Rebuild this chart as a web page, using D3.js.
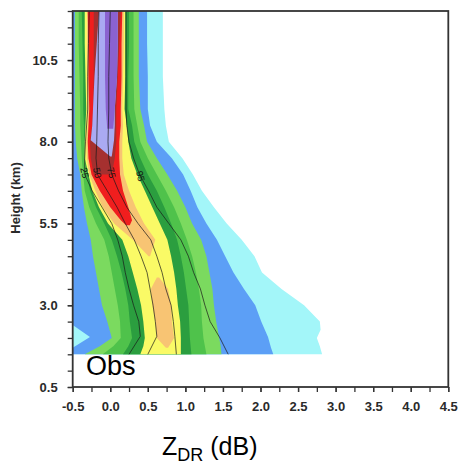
<!DOCTYPE html>
<html>
<head>
<meta charset="utf-8">
<script src="https://cdn.jsdelivr.net/npm/d3@7"></script>
<style>
  html, body { margin: 0; padding: 0; background: #fff; }
  svg { display: block; }
</style>
</head>
<body>
<svg id="chart" width="461" height="468"></svg>
<script>
// Frequency bands of the ZDR-by-altitude diagram, from the lowest (outermost)
// frequency level to the highest (innermost). Each row: [height km, left ZDR dB, right ZDR dB].
const band1 = [[1.5,-0.6,2.82],[1.75,-0.6,2.79],[2.0,-0.6,2.75],[2.25,-0.6,2.80],[2.5,-0.6,2.79],[3.0,-0.6,2.58],[3.5,-0.6,2.28],[4.0,-0.6,2.02],[4.5,-0.6,1.92],[5.0,-0.6,1.75],[5.5,-0.6,1.55],[6.0,-0.6,1.38],[6.5,-0.6,1.22],[7.0,-0.6,1.10],[7.5,-0.6,0.96],[8.0,-0.6,0.78],[8.5,-0.6,0.74],[9.0,-0.6,0.72],[10.0,-0.6,0.70],[11.0,-0.6,0.70],[12.0,-0.6,0.70]];
const band2 = [[1.5,-0.6,2.17],[1.7,-0.5,2.14],[2.03,-0.27,2.10],[2.4,-0.5,2.03],[2.5,-0.6,2.01],[3.0,-0.6,1.93],[3.5,-0.6,1.78],[4.0,-0.6,1.64],[4.5,-0.6,1.53],[5.0,-0.6,1.42],[5.5,-0.6,1.28],[6.0,-0.6,1.16],[6.5,-0.6,1.07],[7.0,-0.6,0.97],[7.5,-0.6,0.82],[8.0,-0.6,0.62],[8.5,-0.6,0.53],[9.0,-0.6,0.50],[10.0,-0.6,0.50],[11.0,-0.6,0.49],[12.0,-0.6,0.49]];
const band3 = [[1.5,-0.34,1.48],[1.75,-0.14,1.47],[2.0,0.02,1.45],[2.5,-0.04,1.41],[3.0,-0.11,1.38],[3.5,-0.15,1.36],[4.0,-0.19,1.32],[4.5,-0.23,1.28],[5.0,-0.26,1.21],[5.5,-0.31,1.09],[6.0,-0.35,1.00],[6.5,-0.38,0.89],[7.0,-0.40,0.76],[7.5,-0.44,0.62],[8.0,-0.46,0.49],[8.5,-0.47,0.45],[9.0,-0.47,0.40],[10.0,-0.47,0.38],[11.0,-0.47,0.38],[12.0,-0.47,0.38]];
const band4 = [[1.5,-0.10,1.28],[1.75,0.04,1.26],[2.0,0.14,1.24],[2.5,0.13,1.22],[3.0,0.10,1.21],[3.5,0.06,1.18],[4.0,0.02,1.14],[4.5,-0.02,1.09],[5.0,-0.08,1.02],[5.5,-0.19,0.94],[6.0,-0.28,0.85],[6.5,-0.34,0.74],[7.0,-0.36,0.62],[7.5,-0.38,0.50],[8.0,-0.39,0.40],[8.5,-0.40,0.36],[9.0,-0.40,0.32],[10.0,-0.41,0.31],[11.0,-0.42,0.31],[12.0,-0.42,0.31]];
const band5 = [[1.5,0.17,1.08],[1.75,0.24,1.07],[2.0,0.29,1.06],[2.5,0.26,1.05],[3.0,0.24,1.04],[3.5,0.20,1.01],[4.0,0.15,0.98],[4.5,0.09,0.94],[5.0,0.02,0.89],[5.5,-0.08,0.81],[6.0,-0.19,0.72],[6.5,-0.27,0.62],[7.0,-0.31,0.50],[7.5,-0.34,0.40],[8.0,-0.35,0.32],[8.5,-0.35,0.29],[9.0,-0.36,0.24],[10.0,-0.36,0.24],[11.0,-0.37,0.25],[12.0,-0.38,0.25]];
const band6 = [[1.5,0.40,0.94],[1.75,0.44,0.94],[2.0,0.46,0.94],[2.5,0.44,0.93],[3.0,0.41,0.90],[3.5,0.36,0.88],[4.0,0.30,0.85],[4.5,0.24,0.81],[5.0,0.16,0.76],[5.5,-0.03,0.66],[6.0,-0.15,0.56],[6.5,-0.24,0.46],[7.0,-0.29,0.36],[7.5,-0.34,0.28],[8.0,-0.34,0.24],[8.5,-0.33,0.22],[9.0,-0.32,0.19],[10.0,-0.33,0.20],[11.0,-0.34,0.20],[12.0,-0.34,0.20]];
const band7 = [[1.7,0.74,0.77],[2.0,0.62,0.85],[2.5,0.60,0.82],[3.0,0.56,0.81],[3.5,0.54,0.77],[3.85,0.62,0.65],[4.2,null,null],[4.5,0.51,0.53],[5.0,0.30,0.60],[5.5,0.05,0.45],[6.0,-0.10,0.34],[6.5,-0.20,0.25],[7.0,-0.28,0.18],[7.5,-0.31,0.16],[8.0,-0.32,0.16],[8.5,-0.30,0.17],[9.0,-0.30,0.16],[10.0,-0.31,0.17],[11.0,-0.31,0.18],[12.0,-0.31,0.18]];
const band8 = [[5.45,0.21,0.26],[5.6,0.14,0.29],[6.0,0.00,0.24],[6.5,-0.14,0.17],[7.0,-0.25,0.13],[7.5,-0.29,0.12],[8.0,-0.30,0.12],[8.5,-0.29,0.14],[9.0,-0.28,0.14],[10.0,-0.29,0.15],[11.0,-0.29,0.15],[12.0,-0.30,0.16]];
const band9 = [[7.0,-0.22,0.02],[7.5,-0.26,0.06],[8.0,-0.27,0.08],[8.5,-0.24,0.08],[9.0,-0.23,0.08],[10.0,-0.22,0.10],[11.0,-0.22,0.12],[12.0,-0.22,0.14]];
const band10 = [[7.55,0.00,0.02],[8.05,-0.26,0.05],[8.5,-0.24,0.06],[9.0,-0.23,0.06],[10.0,-0.21,0.09],[11.0,-0.18,0.10],[12.0,-0.15,0.10]];
const band11 = [[8.4,-0.04,0.04],[9.0,-0.06,0.06],[10.0,-0.07,0.09],[11.0,-0.07,0.10],[12.0,-0.07,0.10]];

// Cumulative percentile curves: [height km, ZDR dB]
const pct25 = [[1.5,0.25],[2.05,0.40],[2.5,0.38],[3.0,0.31],[3.5,0.25],[4.0,0.20],[4.5,0.16],[5.0,0.10],[5.5,0.02],[6.0,-0.11],[6.5,-0.24],[7.0,-0.34],[7.5,-0.34],[8.0,-0.33],[9.0,-0.30],[10.0,-0.30],[11.0,-0.29],[12.0,-0.28]];
const pct50 = [[1.5,0.50],[2.05,0.62],[2.5,0.60],[3.0,0.57],[3.5,0.53],[4.0,0.49],[4.5,0.41],[5.0,0.32],[5.5,0.20],[6.0,0.09],[6.5,-0.04],[7.0,-0.17],[7.5,-0.19],[8.0,-0.18],[9.0,-0.17],[10.0,-0.16],[11.0,-0.16],[12.0,-0.15]];
const pct75 = [[1.5,0.88],[2.05,0.86],[2.5,0.84],[3.0,0.81],[3.5,0.74],[4.0,0.69],[4.5,0.62],[5.0,0.54],[5.5,0.37],[6.0,0.22],[6.5,0.11],[7.0,0.02],[7.5,-0.02],[8.0,-0.03],[9.0,-0.02],[10.0,-0.02],[11.0,-0.01],[12.0,0.00]];
const pct95 = [[1.5,1.57],[2.0,1.46],[2.5,1.33],[3.0,1.26],[3.5,1.20],[4.0,1.11],[4.5,1.04],[5.0,0.94],[5.5,0.78],[6.0,0.62],[6.5,0.51],[7.0,0.39],[7.5,0.31],[8.0,0.25],[8.5,0.22],[9.0,0.21],[10.0,0.21],[11.0,0.21],[12.0,0.21]];
const pctNames = ["25", "50", "75", "95"];
const pctLabelHeights = [7.05, 7.05, 7.05, 6.95];

// Axis ticks
const xTicks = [-0.5, 0.0, 0.5, 1.0, 1.5, 2.0, 2.5, 3.0, 3.5, 4.0, 4.5];
const yTicks = [0.5, 3.0, 5.5, 8.0, 10.5];

// Fill colours, lowest to highest frequency
const bandColors = ["#a3f6f9", "#5c9ff6", "#7bda5f", "#4fc24b", "#2b9e3f",
                    "#fafa66", "#f8c473", "#f01e1e", "#a5302f", "#aaaaf2", "#8a62d0"];

const bands = [band1, band2, band3, band4, band5, band6, band7, band8, band9, band10, band11];
const pcts = [pct25, pct50, pct75, pct95];

const svg = d3.select("#chart");
const plotLeft = 72.7, plotRight = 448.3, plotTop = 11, plotBottom = 387;

const x = d3.scaleLinear().domain([-0.5, 4.5]).range([plotLeft, plotRight]);
const y = d3.scaleLinear().domain([0.5, 12]).range([plotBottom, plotTop]);

svg.append("rect").attr("width", 461).attr("height", 468).attr("fill", "#fff");

svg.append("defs").append("clipPath").attr("id", "plotClip")
  .append("rect").attr("x", plotLeft).attr("y", plotTop)
  .attr("width", plotRight - plotLeft).attr("height", plotBottom - plotTop);

const plot = svg.append("g").attr("clip-path", "url(#plotClip)");

const area = d3.area()
  .defined(d => d[1] != null)
  .y(d => y(d[0]))
  .x0(d => x(d[1]))
  .x1(d => x(d[2]));

plot.selectAll("path.band")
  .data(bands)
  .join("path")
  .attr("class", "band")
  .attr("d", area)
  .attr("fill", (d, i) => bandColors[i]);

const line = d3.line().x(d => x(d[1])).y(d => y(d[0]));

plot.selectAll("path.pct")
  .data(pcts)
  .join("path")
  .attr("class", "pct")
  .attr("d", line)
  .attr("fill", "none")
  .attr("stroke", "#1a1a1a")
  .attr("stroke-width", 0.7);

// Percentile labels sit on their curves
function valueAt(curve, h) {
  for (let i = 0; i < curve.length - 1; i++) {
    const a = curve[i], b = curve[i + 1];
    if (h >= a[0] && h <= b[0]) {
      const t = (h - a[0]) / (b[0] - a[0]);
      return a[1] + t * (b[1] - a[1]);
    }
  }
  return curve[curve.length - 1][1];
}

plot.selectAll("text.pctLabel")
  .data(pcts)
  .join("text")
  .attr("class", "pctLabel")
  .attr("transform", (d, i) => {
    const h = pctLabelHeights[i];
    return `translate(${x(valueAt(d, h))},${y(h)}) rotate(78)`;
  })
  .attr("text-anchor", "middle")
  .attr("dy", "0.35em")
  .attr("font-family", "Liberation Sans, Arial, sans-serif")
  .attr("font-size", 9.5)
  .attr("fill", "#111")
  .text((d, i) => pctNames[i]);

// Axes
const axisFont = "Liberation Sans, Arial, Helvetica, sans-serif";

const xAxisMinor = d3.axisBottom(x).tickValues(d3.range(-0.5, 4.51, 0.25)).tickSize(5).tickFormat("");
const xAxis = d3.axisBottom(x).tickValues(xTicks).tickSize(5).tickPadding(10).tickFormat(d => d.toFixed(1));
const yAxisMinor = d3.axisLeft(y).tickValues(d3.range(0.5, 12.01, 0.5)).tickSize(5).tickFormat("");
const yAxis = d3.axisLeft(y).tickValues(yTicks).tickSize(5).tickPadding(10).tickFormat(d => d.toFixed(1));

function styleAxis(g) {
  g.selectAll("path.domain").remove();
  g.selectAll("line").attr("stroke", "#333").attr("stroke-width", 1.3);
  g.selectAll("text")
    .attr("font-family", axisFont)
    .attr("font-size", 13)
    .attr("font-weight", "bold")
    .attr("fill", "#2a2a2a");
}

svg.append("g").attr("transform", `translate(0,${plotBottom})`).call(xAxisMinor).call(styleAxis);
svg.append("g").attr("transform", `translate(0,${plotBottom})`).call(xAxis).call(styleAxis);
svg.append("g").attr("transform", `translate(${plotLeft},0)`).call(yAxisMinor).call(styleAxis);
svg.append("g").attr("transform", `translate(${plotLeft},0)`).call(yAxis).call(styleAxis);

// Frame
svg.append("rect")
  .attr("x", plotLeft).attr("y", plotTop)
  .attr("width", plotRight - plotLeft).attr("height", plotBottom - plotTop)
  .attr("fill", "none").attr("stroke", "#333").attr("stroke-width", 1.8);

// Panel tag
svg.append("text")
  .attr("x", 86).attr("y", 375)
  .attr("font-family", axisFont)
  .attr("font-size", 27)
  .attr("fill", "#000")
  .text("Obs");

// Axis titles
svg.append("text")
  .attr("transform", "translate(19.5,198) rotate(-90)")
  .attr("text-anchor", "middle")
  .attr("font-family", axisFont)
  .attr("font-size", 13)
  .attr("font-weight", "bold")
  .attr("fill", "#2a2a2a")
  .text("Height (km)");

const xTitle = svg.append("text")
  .attr("x", 162).attr("y", 455)
  .attr("font-family", axisFont)
  .attr("font-size", 25)
  .attr("fill", "#000");
xTitle.append("tspan").text("Z");
xTitle.append("tspan").attr("font-size", 18).attr("dy", 6).text("DR");
xTitle.append("tspan").attr("dy", -6).text(" (dB)");
</script>
</body>
</html>
